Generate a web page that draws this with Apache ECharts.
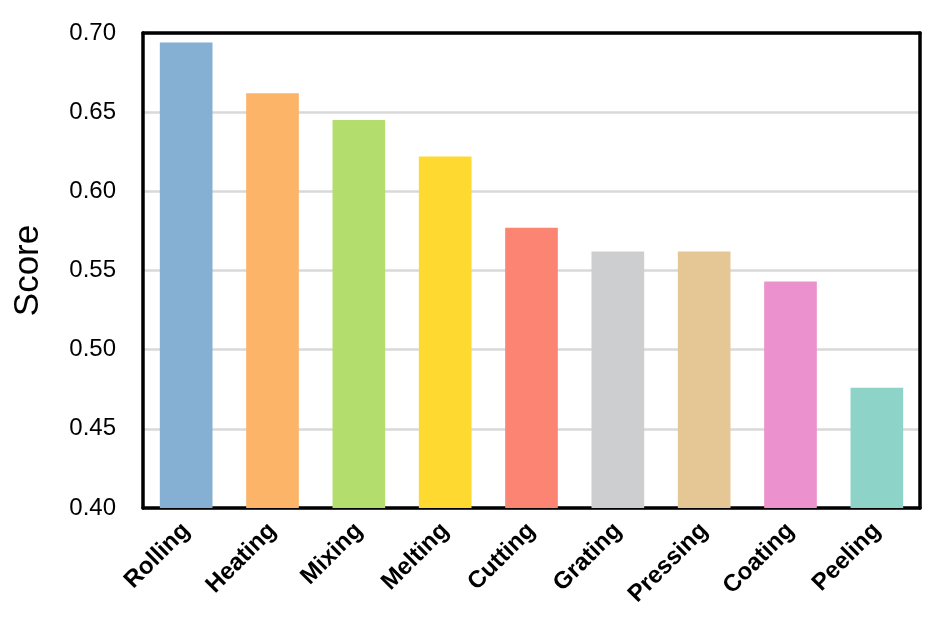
<!DOCTYPE html>
<html>
<head>
<meta charset="utf-8">
<script src="https://cdn.jsdelivr.net/npm/echarts@6/dist/echarts.min.js"></script>
<style>html,body{margin:0;padding:0;background:#fff;}#c{width:946px;height:630px;}</style>
</head>
<body>
<div id="c"></div>
<script>
const categories = ['Rolling','Heating','Mixing','Melting','Cutting','Grating','Pressing','Coating','Peeling'];
const scores = [0.694, 0.662, 0.645, 0.622, 0.577, 0.562, 0.562, 0.543, 0.476];
const colors = ['#85b0d3','#fcb469','#b3de6d','#fed92f','#fc8473','#cdced0','#e5c695','#eb91cd','#8dd3c7'];
const yTicks = {min: 0.40, max: 0.70, interval: 0.05};

const frameLine = {show: true, onZero: false, lineStyle: {color: '#000', width: 3.5}};
const chart = echarts.init(document.getElementById('c'), null, {renderer: 'canvas'});
chart.setOption({
  animation: false,
  backgroundColor: '#fff',
  grid: {left: 143, right: 26, top: 33, bottom: 122, show: false,
         containLabel: false, outerBoundsMode: 'none'},
  xAxis: [{
    type: 'category',
    data: categories,
    position: 'bottom',
    axisLine: frameLine,
    axisTick: {show: false},
    axisLabel: {rotate: 45, margin: 19, fontFamily: 'Liberation Sans', fontWeight: 'bold', fontSize: 24, color: '#000', interval: 0}
  }, {
    type: 'category',
    data: categories,
    position: 'top',
    axisLine: frameLine,
    axisTick: {show: false},
    axisLabel: {show: false},
    splitLine: {show: false}
  }],
  yAxis: [{
    type: 'value',
    position: 'left',
    min: yTicks.min, max: yTicks.max, interval: yTicks.interval,
    name: 'Score', nameLocation: 'middle', nameGap: 97,
    nameTextStyle: {fontFamily: 'Liberation Sans', fontSize: 35, color: '#000'},
    axisLine: frameLine,
    axisTick: {show: false},
    axisLabel: {margin: 27, fontFamily: 'Liberation Sans', fontSize: 24, color: '#000', formatter: v => v.toFixed(2)},
    splitLine: {show: true, lineStyle: {color: '#d9d9d9', width: 2.5}}
  }, {
    type: 'value',
    position: 'right',
    min: yTicks.min, max: yTicks.max, interval: yTicks.interval,
    axisLine: frameLine,
    axisTick: {show: false},
    axisLabel: {show: false},
    splitLine: {show: false}
  }],
  series: [{
    type: 'bar',
    xAxisIndex: 0,
    yAxisIndex: 0,
    data: scores.map((v, i) => ({value: v, itemStyle: {color: colors[i]}})),
    barWidth: '61%'
  }]
});
</script>
</body>
</html>
